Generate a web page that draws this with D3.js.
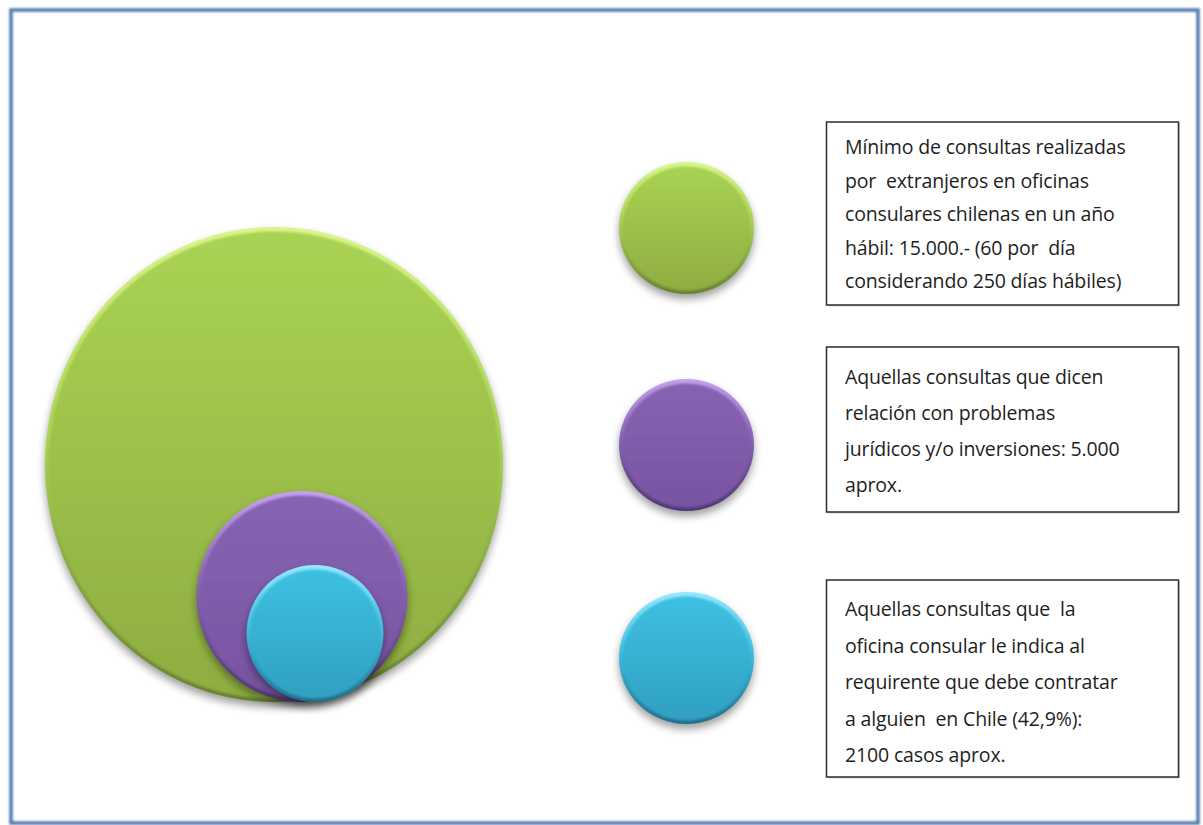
<!DOCTYPE html>
<html>
<head>
<meta charset="utf-8">
<script src="https://cdn.jsdelivr.net/npm/d3@7"></script>
<style>
  body { margin: 0; background: #fff; }
  svg { display: block; }
</style>
</head>
<body>
<div id="chart"></div>
<script>
// values behind the circles (consultas)
const categories = ["Mínimo", "Problemas jurídicos", "Contratar en Chile"];
const values = [15000, 5000, 2100];
const colorTop = ["#a9d353", "#8764b3", "#3fc0e2"];
const colorBottom = ["#8fad42", "#7755a2", "#30a0c1"];
const rimTop = ["#d8f68a", "#c4a2ee", "#96e8ff"];
const rimBottom = ["#66822e", "#4f3676", "#206f8a"];
const labelLines = [
  ["Mínimo de consultas realizadas", "por  extranjeros en oficinas", "consulares chilenas en un año",
   "hábil: 15.000.- (60 por  día", "considerando 250 días hábiles)"],
  ["Aquellas consultas que dicen", "relación con problemas", "jurídicos y/o inversiones: 5.000", "aprox."],
  ["Aquellas consultas que  la", "oficina consular le indica al", "requirente que debe contratar",
   "a alguien  en Chile (42,9%):", "2100 casos aprox."]
];

const W = 1203, H = 825;
const svg = d3.select("#chart").append("svg")
  .attr("width", W)
  .attr("height", H);

const defs = svg.append("defs");
defs.append("filter").attr("id", "shadow").attr("x", "-20%").attr("y", "-20%")
  .attr("width", "140%").attr("height", "140%")
  .append("feGaussianBlur").attr("stdDeviation", 4);
defs.append("filter").attr("id", "soft")
  .append("feGaussianBlur").attr("stdDeviation", 1.1);
defs.append("filter").attr("id", "frameglow")
  .append("feGaussianBlur").attr("stdDeviation", 0.8);

values.forEach((v, i) => {
  const g1 = defs.append("linearGradient").attr("id", "body" + i)
    .attr("x1", 0).attr("y1", 0).attr("x2", 0).attr("y2", 1);
  g1.append("stop").attr("offset", "0%").attr("stop-color", colorTop[i]);
  g1.append("stop").attr("offset", "100%").attr("stop-color", colorBottom[i]);
  const g2 = defs.append("linearGradient").attr("id", "rim" + i)
    .attr("x1", 0).attr("y1", 0).attr("x2", 0).attr("y2", 1);
  g2.append("stop").attr("offset", "0%").attr("stop-color", rimTop[i]);
  g2.append("stop").attr("offset", "45%").attr("stop-color", colorTop[i]);
  g2.append("stop").attr("offset", "100%").attr("stop-color", rimBottom[i]);
});

// frame
svg.append("rect")
  .attr("x", 11).attr("y", 10)
  .attr("width", 1187).attr("height", 813)
  .attr("fill", "none")
  .attr("stroke", "#4e78b0")
  .attr("stroke-width", 3.5)
  .attr("filter", "url(#frameglow)");

// radius scale (sqrt, the big one drawn larger like the original)
const r = d3.scaleSqrt()
  .domain([0, 2100, 5000, 15000])
  .range([0, 68.5, 105.5, 233]);

function bubble(sel, cx, cy, rx, ry, i) {
  const g = sel.append("g");
  g.append("ellipse")
    .attr("cx", cx).attr("cy", cy + 5)
    .attr("rx", rx).attr("ry", ry)
    .attr("fill", "#000").attr("opacity", 0.38)
    .attr("filter", "url(#shadow)");
  g.append("ellipse")
    .attr("cx", cx).attr("cy", cy)
    .attr("rx", rx).attr("ry", ry)
    .attr("fill", `url(#rim${i})`);
  g.append("ellipse")
    .attr("cx", cx).attr("cy", cy + 0.5)
    .attr("rx", rx - 3.5).attr("ry", ry - 4)
    .attr("fill", `url(#body${i})`)
    .attr("filter", "url(#soft)");
}

// nested circles, bottoms aligned
const baseY = 702;
const nestX = d3.scaleLinear().domain([2100, 15000]).range([315, 274]);
const nest = svg.append("g");
values.forEach((v, i) => {
  const ry = r(v) + (i === 0 ? 4.5 : 0);
  const rx = r(v) - (i === 0 ? 4 : 0);
  const cx = i === 1 ? 302 : nestX(v);
  bubble(nest, cx, baseY - ry, rx, ry, i);
});

// legend circles + boxes
const legendY = [228, 445, 658];
const boxes = [
  {y: 122, h: 183, first: 154, step: 33.5},
  {y: 347, h: 165, first: 384, step: 36},
  {y: 580, h: 197, first: 616, step: 36.5}
];
const legend = svg.append("g");
values.forEach((v, i) => {
  bubble(legend, 686.5, legendY[i], 67.5, 66, i);
  const b = boxes[i];
  legend.append("rect")
    .attr("x", 828).attr("y", b.y + 1.5)
    .attr("width", 352).attr("height", b.h)
    .attr("fill", "#bbb").attr("opacity", 0.6);
  legend.append("rect")
    .attr("x", 826.5).attr("y", b.y)
    .attr("width", 352).attr("height", b.h)
    .attr("fill", "#fff")
    .attr("stroke", "#2b2b2b")
    .attr("stroke-width", 1.5);
  legend.append("g").selectAll("text")
    .data(labelLines[i])
    .join("text")
    .attr("x", 845)
    .attr("y", (d, j) => b.first + j * b.step)
    .attr("font-family", "'Open Sans', Lato, sans-serif")
    .attr("font-size", 19.5)
    .attr("letter-spacing", -0.15)
    .attr("fill", "#1e1e1e")
    .style("white-space", "pre")
    .text(d => d);
});
</script>
</body>
</html>
